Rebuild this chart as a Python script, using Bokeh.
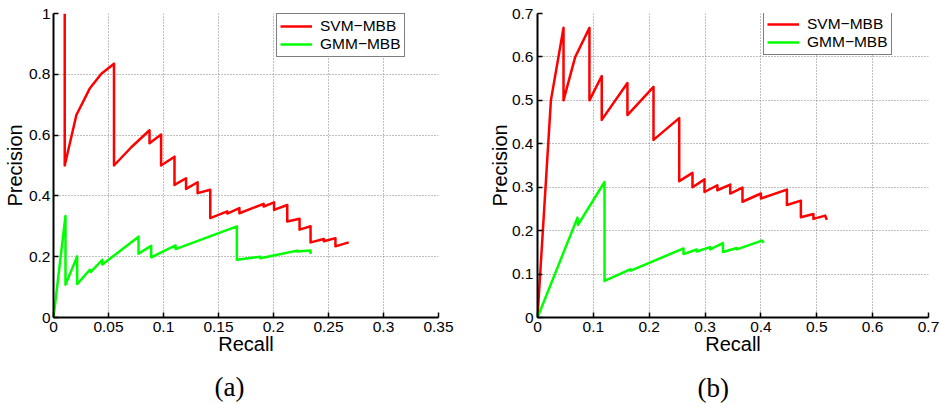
from bokeh.plotting import figure
from bokeh.models import (Range1d, FixedTicker, NumeralTickFormatter, Legend, LegendItem, Title)
from bokeh.layouts import row
from bokeh.embed import file_html
from bokeh.resources import INLINE

# ---------------- data ----------------
# (a)
svm_a_recall = [0.0102, 0.0102, 0.0208, 0.0329, 0.0435, 0.0550, 0.0550, 0.0707, 0.0873, 0.0873,
                0.0978, 0.0978, 0.1100, 0.1100, 0.1205, 0.1205, 0.1310, 0.1310, 0.1425, 0.1425,
                0.1580, 0.1580, 0.1690, 0.1690, 0.1910, 0.1910, 0.2005, 0.2005, 0.2125, 0.2125,
                0.2237, 0.2237, 0.2337, 0.2337, 0.2458, 0.2458, 0.2563, 0.2563, 0.2684]
svm_a_precision = [1.000, 0.500, 0.666, 0.753, 0.802, 0.835, 0.500, 0.560, 0.616, 0.573,
                   0.602, 0.500, 0.529, 0.436, 0.458, 0.423, 0.445, 0.409, 0.420, 0.327,
                   0.349, 0.342, 0.360, 0.343, 0.374, 0.365, 0.379, 0.354, 0.370, 0.316,
                   0.325, 0.289, 0.300, 0.247, 0.258, 0.251, 0.261, 0.234, 0.247]
gmm_a_recall = [0.0, 0.0109, 0.0109, 0.0215, 0.0215, 0.0330, 0.0340, 0.0444, 0.0444, 0.0773,
                0.0773, 0.0888, 0.0888, 0.1110, 0.1110, 0.1667, 0.1667, 0.1880, 0.1880, 0.2217,
                0.2217, 0.2337, 0.2337]
gmm_a_precision = [0.0, 0.334, 0.108, 0.201, 0.110, 0.157, 0.150, 0.190, 0.174, 0.266,
                   0.210, 0.236, 0.198, 0.237, 0.225, 0.300, 0.190, 0.200, 0.195, 0.220,
                   0.217, 0.220, 0.209]

# (b)
svm_b_recall = [0.0, 0.0240, 0.0466, 0.0466, 0.0675, 0.0930, 0.0930, 0.1150, 0.1150, 0.1610,
                0.1610, 0.2077, 0.2077, 0.2537, 0.2537, 0.2775, 0.2775, 0.2990, 0.2990, 0.3220,
                0.3220, 0.3450, 0.3450, 0.3670, 0.3670, 0.4000, 0.4000, 0.4465, 0.4465, 0.4715,
                0.4715, 0.4940, 0.4940, 0.5150, 0.5180]
svm_b_precision = [0.0, 0.500, 0.667, 0.500, 0.600, 0.667, 0.500, 0.556, 0.455, 0.540,
                   0.466, 0.531, 0.409, 0.459, 0.314, 0.333, 0.300, 0.318, 0.289, 0.3045,
                   0.293, 0.306, 0.2855, 0.299, 0.2665, 0.2855, 0.274, 0.2946, 0.259, 0.269,
                   0.2308, 0.2385, 0.227, 0.2346, 0.2248]
gmm_b_recall = [0.0, 0.0716, 0.0725, 0.1200, 0.1200, 0.1660, 0.1670, 0.2614, 0.2614, 0.2850,
                0.2850, 0.3090, 0.3090, 0.3320, 0.3320, 0.3570, 0.3570, 0.4017, 0.4050]
gmm_b_precision = [0.0, 0.230, 0.2134, 0.312, 0.0843, 0.111, 0.108, 0.159, 0.146, 0.1565,
                   0.152, 0.162, 0.157, 0.1715, 0.151, 0.160, 0.157, 0.177, 0.172]

x_ticks_a = [0, 0.05, 0.1, 0.15, 0.2, 0.25, 0.3, 0.35]
x_tick_labels_a = ["0", "0.05", "0.1", "0.15", "0.2", "0.25", "0.3", "0.35"]
y_ticks_a = [0, 0.2, 0.4, 0.6, 0.8, 1.0]
y_tick_labels_a = ["0", "0.2", "0.4", "0.6", "0.8", "1"]
x_ticks_b = [0, 0.1, 0.2, 0.3, 0.4, 0.5, 0.6, 0.7]
x_tick_labels_b = ["0", "0.1", "0.2", "0.3", "0.4", "0.5", "0.6", "0.7"]
y_ticks_b = [0, 0.1, 0.2, 0.3, 0.4, 0.5, 0.6, 0.7]
y_tick_labels_b = ["0", "0.1", "0.2", "0.3", "0.4", "0.5", "0.6", "0.7"]

series_names = ["SVM\u2212MBB", "GMM\u2212MBB"]
captions = ["(a)", "(b)"]
x_title = "Recall"
y_title = "Precision"

SANS = "Liberation Sans"
SERIF = "Liberation Serif"


def make_panel(xr, yr, xt, xtl, yt, ytl, svm_x, svm_y, gmm_x, gmm_y, caption,
               bl, br, bt, bb, y_standoff, ylab_standoff, leg_loc, cap_offset, cap_gap):
    p = figure(width=470, height=404, output_backend="svg", toolbar_location=None,
               x_range=Range1d(*xr), y_range=Range1d(*yr),
               min_border_left=bl, min_border_right=br, min_border_top=bt, min_border_bottom=bb)
    p.outline_line_color = None
    p.background_fill_color = "white"
    p.border_fill_color = "white"

    p.xaxis.ticker = FixedTicker(ticks=xt)
    p.yaxis.ticker = FixedTicker(ticks=yt)
    p.xaxis.formatter = NumeralTickFormatter(format="0.[00]")
    p.yaxis.formatter = NumeralTickFormatter(format="0.[00]")
    p.xaxis.major_label_overrides = {t: s for t, s in zip(xt, xtl)}
    p.yaxis.major_label_overrides = {t: s for t, s in zip(yt, ytl)}
    for ax in (p.xaxis, p.yaxis):
        ax.axis_line_width = 2
        ax.axis_line_color = "black"
        ax.major_tick_in = 5
        ax.major_tick_out = 0
        ax.major_tick_line_color = "black"
        ax.major_tick_line_width = 1.5
        ax.minor_tick_in = 0
        ax.minor_tick_out = 0
        ax.major_label_text_font = SANS
        ax.major_label_text_font_size = "15.5px"
        ax.major_label_text_color = "black"
        ax.axis_label_text_font = SANS
        ax.axis_label_text_font_size = "20px"
        ax.axis_label_text_font_style = "normal"
        ax.axis_label_text_color = "black"
    p.xaxis.major_label_standoff = 4
    p.yaxis.major_label_standoff = y_standoff
    p.xaxis.axis_label = x_title
    p.yaxis.axis_label = y_title
    p.xaxis.axis_label_standoff = -2
    p.yaxis.axis_label_standoff = ylab_standoff

    for g in (p.xgrid, p.ygrid):
        g.grid_line_color = "#808080"
        g.grid_line_dash = "1 2"
        g.grid_line_width = 1

    r1 = p.line(svm_x, svm_y, line_color="#ff0000", line_width=2.5, line_join="round")
    r2 = p.line(gmm_x, gmm_y, line_color="#00ff00", line_width=2.5, line_join="round")

    legend = Legend(items=[LegendItem(label=series_names[0], renderers=[r1]),
                           LegendItem(label=series_names[1], renderers=[r2])],
                    location=leg_loc, margin=0, padding=3, spacing=0,
                    glyph_width=32, glyph_height=14, label_height=14, label_standoff=8,
                    label_text_font=SANS, label_text_font_size="15.5px", label_text_color="black",
                    border_line_color="black", border_line_width=1, background_fill_color="white",
                    background_fill_alpha=1.0)
    p.add_layout(legend)

    # thin spacer panel between the x axis and the caption
    p.add_layout(Title(text=" ", text_font_size="1px", standoff=cap_gap, text_color="white"), "below")
    p.add_layout(Title(text=caption, align="left", offset=cap_offset, vertical_align="middle",
                       standoff=0, text_font=SERIF, text_font_size="27px",
                       text_font_style="normal", text_color="black"), "below")
    return p


pa = make_panel((0, 0.35), (0, 1.0), x_ticks_a, x_tick_labels_a, y_ticks_a, y_tick_labels_a,
                svm_a_recall, svm_a_precision, gmm_a_recall, gmm_a_precision, captions[0],
                bl=52, br=32, bt=13, bb=86, y_standoff=3, ylab_standoff=0,
                leg_loc=(223, 260), cap_offset=161, cap_gap=10)
pb = make_panel((0, 0.7), (0, 0.7), x_ticks_b, x_tick_labels_b, y_ticks_b, y_tick_labels_b,
                svm_b_recall, svm_b_precision, gmm_b_recall, gmm_b_precision, captions[1],
                bl=67, br=12, bt=10, bb=87, y_standoff=4, ylab_standoff=-2,
                leg_loc=(226, 262), cap_offset=160, cap_gap=11)

layout = row(pa, pb)
open("out.html", "w").write(file_html(layout, INLINE))
